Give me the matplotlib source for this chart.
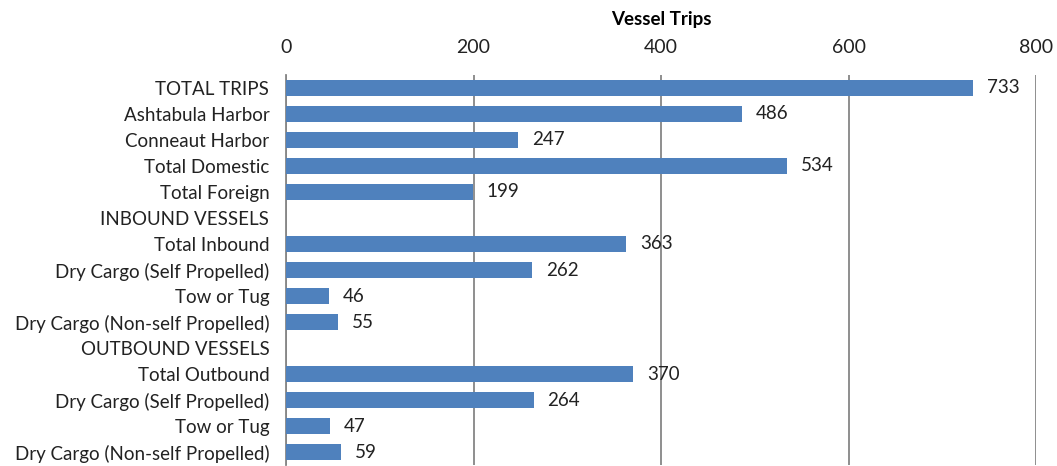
import numpy as np
import matplotlib.pyplot as plt

plt.rcParams['font.family'] = ['Lato', 'DejaVu Sans']

categories = [
    "TOTAL TRIPS", "Ashtabula Harbor", "Conneaut Harbor", "Total Domestic",
    "Total Foreign", "INBOUND VESSELS", "Total Inbound",
    "Dry Cargo (Self Propelled)", "Tow or Tug", "Dry Cargo (Non-self Propelled)",
    "OUTBOUND VESSELS", "Total Outbound", "Dry Cargo (Self Propelled)",
    "Tow or Tug", "Dry Cargo (Non-self Propelled)",
]
values = [733, 486, 247, 534, 199, None, 363, 262, 46, 55, None, 370, 264, 47, 59]
xticks = [0, 200, 400, 600, 800]

fig = plt.figure(figsize=(10.57, 4.66), dpi=100)
ax = fig.add_axes([286 / 1057, 1 / 466, 750 / 1057, 390 / 466])

y = np.arange(len(categories))
vals = [v if v is not None else 0 for v in values]
ax.barh(y, vals, height=0.58, color="#4F81BD", zorder=3)
for yi, v in zip(y, values):
    if v is not None:
        ax.text(v + 15, yi, str(v), va="center", ha="left", fontsize=13.5, color="#222222")

ax.set_yticks(y)
ax.set_yticklabels(categories, fontsize=13.5, color="#222222")
ax.set_ylim(len(categories) - 0.5, -0.5)
ax.set_xlim(0, 800)
ax.set_xticks(xticks)
ax.xaxis.tick_top()
ax.xaxis.set_label_position("top")
ax.tick_params(axis="x", length=0, labelsize=14, pad=14, colors="#222222")
ax.tick_params(axis="y", length=0, pad=12)
ax.set_xlabel("Vessel Trips", fontsize=13.5, fontweight="bold", labelpad=10)
ax.grid(axis="x", color="#868686", linewidth=1.3, zorder=0)
for s in ["top", "right", "bottom"]:
    ax.spines[s].set_visible(False)
ax.spines["left"].set_color("#868686")
ax.spines["left"].set_linewidth(1.3)

fig.savefig("out.png", dpi=100)
